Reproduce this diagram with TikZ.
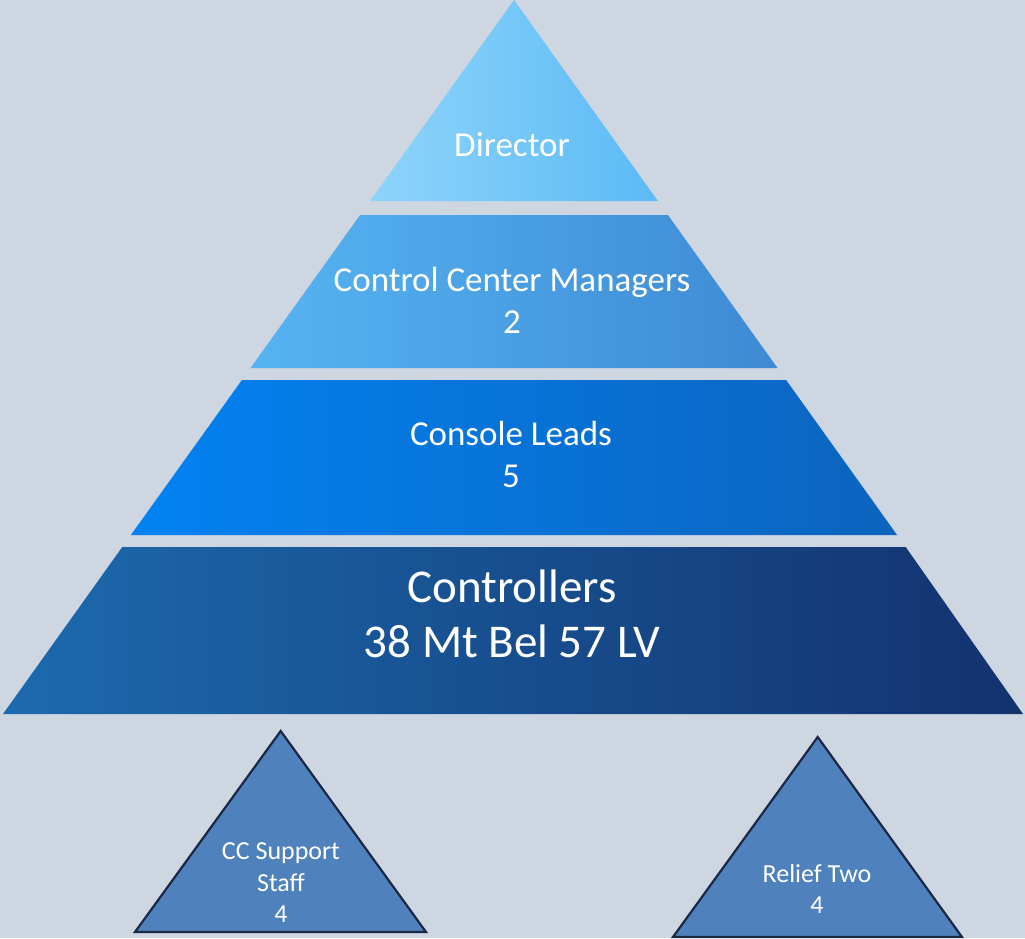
\documentclass[tikz,border=0pt]{standalone}
\usepackage{fontspec}
\setmainfont{Carlito}
\definecolor{bg}{RGB}{206,214,226}
\definecolor{dirL}{RGB}{142,212,250}
\definecolor{dirR}{RGB}{92,186,246}
\definecolor{ccmL}{RGB}{86,180,242}
\definecolor{ccmR}{RGB}{62,138,212}
\definecolor{clL}{RGB}{2,130,242}
\definecolor{clR}{RGB}{12,100,190}
\definecolor{ctL}{RGB}{28,106,174}
\definecolor{ctR}{RGB}{19,50,110}
\definecolor{small}{RGB}{79,129,189}
\definecolor{smallline}{RGB}{26,40,70}
\begin{document}
\begin{tikzpicture}[x=1pt,y=-1pt,
  tiertext/.style={text=white,align=center,font=\fontsize{35}{42}\selectfont},
  bigtext/.style={text=white,align=center,font=\fontsize{47}{55}\selectfont},
  smalltext/.style={text=white,align=center,font=\fontsize{26}{31.5}\selectfont},
  smalltri/.style={fill=small,draw=smallline,line width=2.2pt,line join=miter}]
\fill[bg] (0,0) rectangle (1025,938);
\useasboundingbox (0,0) rectangle (1025,938);
% tiers
\shade[left color=dirL,right color=dirR] (514,0) -- (657.9,201) -- (370.1,201) -- cycle;
\shade[left color=ccmL,right color=ccmR] (360.1,215) -- (667.9,215) -- (777.5,368) -- (250.5,368) -- cycle;
\shade[left color=clL,right color=clR] (241.9,380) -- (786.1,380) -- (897.1,535) -- (130.9,535) -- cycle;
\shade[left color=ctL,right color=ctR] (122.3,547) -- (905.7,547) -- (1023,714) -- (3,714) -- cycle;
% labels
\node[tiertext] (director) at (512,145) {Director};
\node[tiertext] (ccm) at (512,300) {Control Center Managers\\2};
\node[tiertext] (leads) at (511,454) {Console Leads\\5};
\node[bigtext] (ctrl) at (512,614) {Controllers\\38 Mt Bel 57 LV};
% small triangles
\draw[smalltri] (280.7,731) -- (426,932) -- (135,932) -- cycle;
\draw[smalltri] (817.7,737) -- (962,937) -- (673,937) -- cycle;
\node[smalltext] (support) at (281,883) {CC Support\\Staff\\4};
\node[smalltext] (relief) at (817,889) {Relief Two\\4};
\end{tikzpicture}
\end{document}
